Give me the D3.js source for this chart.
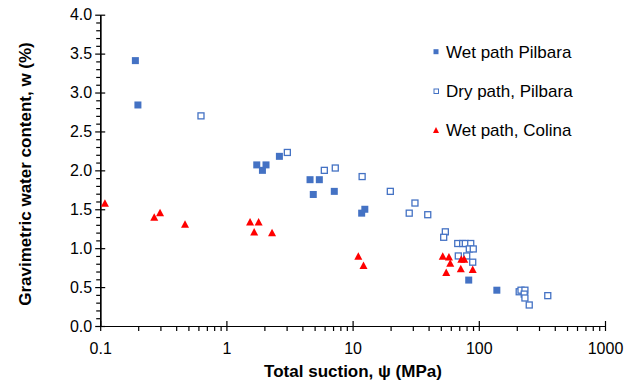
<!DOCTYPE html>
<html><head><meta charset="utf-8">
<script src="https://cdn.jsdelivr.net/npm/d3@7"></script>
<style>
html,body{margin:0;padding:0;background:#fff;}
text{font-family:Arial,"Liberation Sans",sans-serif;fill:#000;}
</style></head>
<body><svg id="c" width="624" height="383"></svg>
<script>
// ---- data ----
const wetPilbaraSuction = [0.190, 0.199, 1.74, 1.93, 2.06, 2.63, 4.60, 5.45, 4.88, 7.16, 12.5, 11.8, 83.2, 139];
const wetPilbaraW       = [3.41, 2.84, 2.07, 2.00, 2.07, 2.18, 1.88, 1.88, 1.69, 1.73, 1.50, 1.45, 0.59, 0.46];

const dryPilbaraSuction = [0.629, 3.04, 5.97, 7.29, 11.9, 19.9, 31.2, 28.1, 39.4, 54.3, 52.7,
                           68.1, 74.5, 78.2, 86.3, 84.1, 90.4, 68.8, 80.2, 89.5,
                           209, 216, 232, 229, 232, 251, 352];
const dryPilbaraW       = [2.70, 2.23, 2.00, 2.03, 1.92, 1.73, 1.58, 1.45, 1.43, 1.21, 1.14,
                           1.06, 1.06, 1.06, 1.06, 0.99, 0.99, 0.90, 0.90, 0.82,
                           0.44, 0.46, 0.46, 0.41, 0.36, 0.27, 0.39];

const wetColinaSuction = [0.109, 0.268, 0.298, 0.470, 1.54, 1.80, 1.66, 2.30, 11.1, 12.2,
                          51.8, 58.0, 59.4, 72.7, 76.7, 55.2, 72.0, 89.5];
const wetColinaW       = [1.58, 1.40, 1.46, 1.31, 1.34, 1.34, 1.21, 1.20, 0.90, 0.78,
                          0.90, 0.89, 0.81, 0.86, 0.86, 0.69, 0.74, 0.73];

const xTickValues = [0.1, 1, 10, 100, 1000];
const xTickLabels = ["0.1", "1", "10", "100", "1000"];
const yTickValues = [0, 0.5, 1, 1.5, 2, 2.5, 3, 3.5, 4];
const legendLabels = ["Wet path Pilbara", "Dry path, Pilbara", "Wet path, Colina"];

// ---- layout ----
const svg = d3.select("#c");
const x = d3.scaleLog().domain([0.1, 1000]).range([100.2, 605]);
const y = d3.scaleLinear().domain([0, 4]).range([326, 14.7]);
const BLUE = "#4472C4", RED = "#FF0000";
const FS = 16, FT = 17;

// minor ticks
const xMinor = [];
for (let d = 0.1; d < 1000; d *= 10) for (let k = 2; k <= 9; k++) xMinor.push(+(d * k).toPrecision(3));
const yMinor = d3.range(0, 41).map(i => i / 10).filter(v => Math.abs(v * 2 - Math.round(v * 2)) > 1e-6);

const gx = svg.append("g").attr("transform", `translate(0,${y(0)})`);
gx.call(d3.axisBottom(x).tickValues(xMinor).tickSize(5).tickSizeOuter(0).tickFormat(""));
gx.call(g => g.append("g").call(d3.axisBottom(x).tickValues(xTickValues).tickSize(-5).tickSizeOuter(0).tickFormat("")));
gx.append("g").call(d3.axisBottom(x).tickValues(xTickValues).tickSize(5).tickSizeOuter(0)
  .tickFormat((d, i) => xTickLabels[i]).tickPadding(12));
gx.selectAll("path.domain").attr("stroke", "#000").attr("stroke-width", 1.2);
gx.selectAll("line").attr("stroke", "#000").attr("stroke-width", 1.2);
gx.selectAll("text").attr("font-size", FS).attr("font-family", "Arial, 'Liberation Sans', sans-serif").attr("fill", "#000");

const gy = svg.append("g").attr("transform", `translate(${x(0.1)},0)`);
gy.call(d3.axisLeft(y).tickValues(yMinor).tickSize(4).tickSizeOuter(0).tickFormat(""));
gy.append("g").call(d3.axisLeft(y).tickValues(yTickValues).tickSize(-5).tickSizeOuter(0).tickFormat(""));
gy.append("g").call(d3.axisLeft(y).tickValues(yTickValues).tickSize(5).tickSizeOuter(0)
  .tickFormat(d3.format(".1f")).tickPadding(3));
gy.selectAll("path.domain").attr("stroke", "#000").attr("stroke-width", 1.2);
gy.selectAll("line").attr("stroke", "#000").attr("stroke-width", 1.2);
gy.selectAll("text").attr("font-size", FS).attr("font-family", "Arial, 'Liberation Sans', sans-serif").attr("fill", "#000");

// axis titles
svg.append("text").attr("x", 353).attr("y", 376.5).attr("text-anchor", "middle")
  .attr("font-size", FT).attr("font-weight", "bold").text("Total suction, ψ (MPa)");
svg.append("text").attr("transform", "translate(31,174) rotate(-90)").attr("text-anchor", "middle")
  .attr("font-size", FT).attr("font-weight", "bold").text("Gravimetric water content, w (%)");

// markers
const tri = (cx, cy, w, h) => `M${cx},${cy - h / 2}L${cx + w / 2},${cy + h / 2}L${cx - w / 2},${cy + h / 2}Z`;
const plot = svg.append("g");

plot.selectAll("rect.dry").data(dryPilbaraSuction.map((s, i) => [s, dryPilbaraW[i]])).join("rect")
  .attr("class", "dry").attr("x", d => x(d[0]) - 3).attr("y", d => y(d[1]) - 3)
  .attr("width", 6).attr("height", 6).attr("fill", "#fff").attr("stroke", BLUE).attr("stroke-width", 1.3);

plot.selectAll("rect.wet").data(wetPilbaraSuction.map((s, i) => [s, wetPilbaraW[i]])).join("rect")
  .attr("class", "wet").attr("x", d => x(d[0]) - 3.5).attr("y", d => y(d[1]) - 3.5)
  .attr("width", 7).attr("height", 7).attr("fill", BLUE);

plot.selectAll("path.col").data(wetColinaSuction.map((s, i) => [s, wetColinaW[i]])).join("path")
  .attr("class", "col").attr("d", d => tri(x(d[0]), y(d[1]), 8, 7.5)).attr("fill", RED);

// legend
const lg = svg.append("g");
const ly = [51.7, 91, 130];
lg.append("rect").attr("x", 433.5).attr("y", ly[0] - 2.5).attr("width", 5).attr("height", 5).attr("fill", BLUE);
lg.append("rect").attr("x", 434).attr("y", ly[1] - 2).attr("width", 4.5).attr("height", 4.5)
  .attr("fill", "#fff").attr("stroke", BLUE).attr("stroke-width", 1);
lg.append("path").attr("d", tri(436, ly[2], 6, 6)).attr("fill", RED);
lg.selectAll("text").data(legendLabels).join("text")
  .attr("x", 446).attr("y", (d, i) => ly[i] + 6).attr("font-size", FT).text(d => d);
</script>
</body></html>
